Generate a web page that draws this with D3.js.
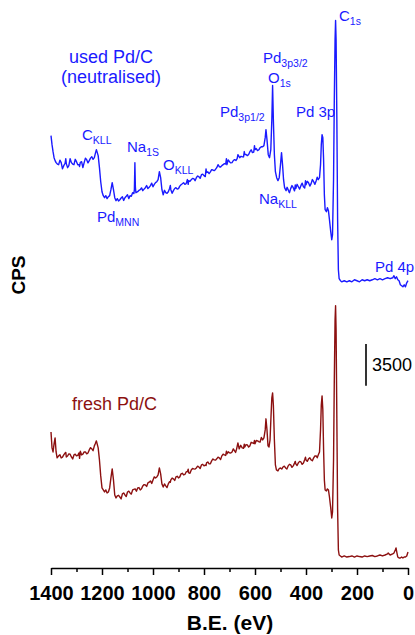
<!DOCTYPE html>
<html>
<head>
<meta charset="utf-8">
<script src="https://cdn.jsdelivr.net/npm/d3@7"></script>
<style>
  body { margin: 0; background: #fff; }
  svg { display: block; }
</style>
</head>
<body>
<svg id="chart" width="415" height="635"></svg>
<script>
// XPS survey spectra: [binding energy (eV), counts per second]
// The used catalyst is stacked above the fresh one by an offset already included in its counts.
const usedSpectrum = [
  [1400,36290],[1396,35530],[1392,34940],[1388,34440],[1384,34190],[1380,34020],[1375,33900],[1370,33850],
  [1365,34230],[1360,34020],[1355,33500],[1350,33770],[1345,33950],[1342,34350],[1340,33940],[1335,33600],
  [1330,33770],[1325,34350],[1320,34020],[1315,33900],[1310,33850],[1305,34300],[1300,34100],[1295,33850],
  [1290,33850],[1288,33700],[1285,34050],[1280,34100],[1275,33600],[1270,34020],[1265,34400],[1260,34270],
  [1255,34000],[1250,34190],[1245,34400],[1240,34520],[1235,34300],[1230,34440],[1226,34800],[1222,35110],
  [1215,34610],[1210,33600],[1205,32420],[1200,31580],[1195,31250],[1190,31080],[1185,31250],[1180,31000],
  [1175,31160],[1170,31250],[1165,31750],[1160,32340],[1155,31750],[1150,31080],[1145,30830],[1140,31000],
  [1135,30800],[1130,30910],[1125,31050],[1120,31160],[1115,30850],[1110,31080],[1105,31200],[1100,31330],
  [1095,31000],[1090,31250],[1085,31200],[1080,31500],[1075,31420],[1073,31750],[1071,34020],[1069,31920],
  [1067,31500],[1060,31580],[1055,31700],[1050,31750],[1045,31900],[1040,31670],[1035,31800],[1030,31920],
  [1025,32100],[1020,31840],[1015,31950],[1010,32090],[1005,32300],[1000,32000],[995,32200],[990,32340],
  [985,32420],[980,32590],[975,33260],[970,32760],[965,31750],[960,31330],[955,31700],[950,31500],
  [945,31450],[940,31580],[935,31850],[932,32100],[930,31750],[925,31450],[920,31670],[915,31850],
  [910,31920],[905,31800],[900,31840],[895,32050],[890,32170],[885,32250],[880,32340],[875,32200],
  [870,32260],[865,32600],[862,32200],[860,32510],[855,32450],[850,32590],[845,32700],[840,32680],
  [835,32500],[830,32760],[825,32900],[820,32840],[815,32700],[810,33010],[805,33050],[800,32930],
  [795,32850],[792,33500],[790,33180],[785,33250],[780,33100],[775,33250],[770,33430],[765,33400],
  [760,33350],[755,33450],[750,33600],[745,33850],[740,33680],[735,33650],[730,33770],[725,33850],
  [720,33940],[715,33900],[712,34350],[710,33850],[705,34250],[700,34100],[695,34000],[690,34020],
  [685,34200],[680,34270],[675,34200],[670,34360],[667,34690],[660,34440],[655,34550],[650,34520],
  [645,34500],[642,34950],[640,34690],[635,34700],[630,34610],[625,34700],[620,34940],[615,35100],
  [610,34860],[605,34900],[602,35450],[600,35110],[595,35200],[590,35030],[585,35100],[580,35280],
  [575,35350],[570,35360],[565,35450],[560,36120],[557,36790],[553,35950],[548,34690],[543,34440],
  [538,35110],[534,37630],[531,40490],[528,37630],[524,34690],[520,33260],[515,32760],[510,32510],
  [505,32760],[500,33850],[496,34860],[492,33850],[488,32590],[484,31920],[478,31670],[474,31950],
  [470,31750],[465,31500],[460,31840],[455,32100],[450,31920],[445,31650],[442,32150],[440,31840],
  [435,32200],[430,32000],[425,31800],[420,32090],[415,32300],[410,32000],[405,31900],[402,32500],
  [400,32170],[395,32450],[390,32340],[385,32050],[380,32260],[375,32600],[370,32420],[365,32200],
  [360,32510],[356,32800],[352,32590],[347,32760],[343,33850],[340,35530],[337,36370],[334,36120],
  [331,34270],[328,31330],[325,30070],[320,29900],[316,30240],[312,29990],[308,29230],[303,28220],
  [299,27550],[296,27970],[292,32590],[289,39310],[286,44350],[284,45950],[282,44350],[279,37630],
  [276,29230],[273,25030],[270,24280],[265,24110],[260,24020],[250,24110],[240,24020],[230,24110],
  [220,24020],[210,24190],[200,24110],[190,24020],[180,24190],[170,24110],[160,24190],[150,24110],
  [140,24190],[130,24280],[120,24190],[110,24280],[100,24190],[90,24280],[80,24360],[70,24280],
  [60,24360],[55,24530],[50,24280],[45,24440],[40,24190],[35,24110],[30,23770],[25,23690],
  [20,23600],[15,23770],[10,23600],[5,23940],[0,24110]
];

const freshSpectrum = [
  [1400,11420],[1396,10080],[1392,9740],[1388,10420],[1384,10920],[1380,9740],[1376,9240],[1370,9410],
  [1365,9500],[1360,9240],[1355,9300],[1350,9490],[1345,9650],[1342,9700],[1340,9320],[1335,9400],
  [1330,9580],[1325,9550],[1320,9320],[1315,9150],[1310,9490],[1305,9550],[1300,9410],[1295,9450],
  [1290,9660],[1288,9200],[1285,9800],[1280,9490],[1275,9550],[1270,9740],[1265,9750],[1260,9580],
  [1255,9650],[1250,9910],[1245,10100],[1240,10000],[1235,9850],[1230,10250],[1226,10450],[1222,10670],
  [1215,10080],[1210,9070],[1205,7730],[1200,6720],[1195,6550],[1190,6380],[1185,6550],[1180,6300],
  [1175,6380],[1170,6720],[1165,7560],[1160,8320],[1155,7390],[1150,6130],[1145,5880],[1140,6050],
  [1135,6100],[1130,5960],[1125,5800],[1120,6220],[1115,6300],[1110,6130],[1105,6000],[1100,6380],
  [1095,6450],[1090,6300],[1085,6200],[1080,6550],[1075,6600],[1070,6640],[1065,6450],[1060,6720],
  [1055,6750],[1050,6550],[1045,6650],[1040,6890],[1035,7000],[1030,6970],[1025,6850],[1020,7140],
  [1015,7200],[1010,7310],[1005,7100],[1000,7390],[995,7650],[990,7560],[985,7640],[980,7810],
  [975,8400],[970,7900],[965,7060],[960,6800],[955,7050],[950,6890],[945,6750],[940,7060],
  [935,7250],[932,7200],[930,7390],[925,7550],[920,7480],[915,7350],[910,7640],[905,7700],
  [900,7560],[895,7650],[890,7900],[885,7950],[880,7810],[875,7850],[870,8060],[865,8100],
  [862,8300],[860,7980],[855,7950],[850,8230],[845,8350],[840,8320],[835,8300],[830,8400],
  [825,8550],[820,8480],[815,8350],[810,8650],[805,8700],[800,8570],[795,8650],[792,8600],
  [790,8820],[785,8900],[780,8740],[775,8750],[770,8990],[765,9150],[760,9070],[755,9050],
  [750,9160],[745,9300],[740,9240],[735,9100],[730,9410],[725,9550],[720,9490],[715,9450],
  [712,9800],[710,9580],[705,9750],[700,9660],[695,9650],[690,9740],[685,10000],[680,9830],
  [676,9700],[672,10000],[667,10500],[662,10000],[656,10300],[650,10080],[645,10050],[642,10400],
  [640,10160],[635,10350],[630,10330],[625,10150],[620,10250],[615,10550],[610,10500],[605,10450],
  [602,10700],[600,10420],[595,10700],[590,10670],[585,10600],[580,10580],[575,10950],[570,10750],
  [565,10920],[560,11590],[557,12520],[553,11590],[549,10250],[545,10160],[541,10750],[537,12850],
  [534,14280],[531,14700],[528,13690],[524,10750],[520,8650],[516,8230],[510,8150],[505,8350],
  [500,8400],[495,8300],[490,8480],[485,8550],[480,8400],[475,8300],[470,8570],[465,8700],
  [460,8650],[455,8450],[450,8570],[445,8800],[442,8950],[440,8740],[435,8600],[430,8820],
  [425,8950],[420,8900],[415,8700],[410,8820],[405,9100],[402,9300],[400,9070],[395,8950],
  [390,9160],[385,9250],[380,9070],[375,9000],[370,9240],[365,9400],[360,9410],[356,9250],
  [352,9490],[347,9740],[343,11590],[340,13690],[337,14450],[334,13270],[331,9910],[328,7390],
  [325,6550],[320,6470],[316,6640],[312,6550],[308,5960],[303,5040],[299,4200],[296,4700],
  [292,9070],[289,15790],[286,20830],[284,22010],[282,19990],[279,12430],[276,4870],[273,1510],
  [270,1090],[265,1010],[260,920],[250,1010],[240,920],[230,960],[220,1010],[210,920],
  [200,1010],[190,960],[180,920],[170,1010],[160,960],[150,1010],[140,1050],[130,960],
  [120,1010],[110,1090],[100,1010],[90,1090],[80,1180],[78,1260],[70,1090],[60,1180],
  [55,1260],[50,1510],[47,1680],[44,1340],[40,920],[35,840],[30,840],[25,920],
  [20,840],[15,920],[10,920],[5,1010],[0,1340]
];

const majorTicks = [1400, 1200, 1000, 800, 600, 400, 200, 0];
const minorTicks = [1300, 1100, 900, 700, 500, 300, 100];
const scaleBarBase = 15300;   // CPS at the foot of the intensity scale bar
const scaleBarSpan = 3500;    // CPS represented by the bar

const BLUE = "#1a1aff";
const RED = "#8c1010";
const FONT = "Arial, 'Liberation Sans', Helvetica, sans-serif";

const svg = d3.select("#chart");
const x = d3.scaleLinear().domain([1400, 0]).range([51, 408]);
const y = d3.scaleLinear().domain([0, 47000]).range([568, 8]);

const line = d3.line().x(d => x(d[0])).y(d => y(d[1]));
const byEnergy = s => s.slice().sort((a, b) => b[0] - a[0]);

// spectra
svg.append("path").datum(byEnergy(freshSpectrum))
  .attr("d", line).attr("fill", "none")
  .attr("stroke", RED).attr("stroke-width", 1.4).attr("stroke-linejoin", "round");
svg.append("path").datum(byEnergy(usedSpectrum))
  .attr("d", line).attr("fill", "none")
  .attr("stroke", BLUE).attr("stroke-width", 1.4).attr("stroke-linejoin", "round");

// binding-energy axis
const xAxis = svg.append("g").attr("transform", "translate(0,568)")
  .call(d3.axisBottom(x).tickValues(majorTicks).tickSize(7).tickSizeOuter(0)
    .tickPadding(11).tickFormat(d3.format("d")));
xAxis.select(".domain").attr("stroke", "#000").attr("stroke-width", 1.5);
xAxis.selectAll(".tick line").attr("stroke", "#000").attr("stroke-width", 1.5);
xAxis.selectAll(".tick text")
  .attr("font-family", FONT).attr("font-size", 20).attr("font-weight", "bold").attr("fill", "#000");

const xMinor = svg.append("g").attr("transform", "translate(0,568)")
  .call(d3.axisBottom(x).tickValues(minorTicks).tickSize(4).tickSizeOuter(0).tickFormat(""));
xMinor.select(".domain").remove();
xMinor.selectAll(".tick line").attr("stroke", "#000").attr("stroke-width", 1.5);

svg.append("text")
  .attr("x", 230).attr("y", 630).attr("text-anchor", "middle")
  .attr("font-family", FONT).attr("font-size", 21).attr("font-weight", "bold")
  .text("B.E. (eV)");

svg.append("text")
  .attr("transform", "translate(25,275) rotate(-90)").attr("text-anchor", "middle")
  .attr("font-family", FONT).attr("font-size", 19).attr("font-weight", "bold")
  .text("CPS");

// intensity scale bar
svg.append("line")
  .attr("x1", 366).attr("x2", 366)
  .attr("y1", y(scaleBarBase)).attr("y2", y(scaleBarBase + scaleBarSpan))
  .attr("stroke", "#000").attr("stroke-width", 1.6);
svg.append("text")
  .attr("x", 372).attr("y", (y(scaleBarBase) + y(scaleBarBase + scaleBarSpan)) / 2 + 6)
  .attr("font-family", FONT).attr("font-size", 18).attr("fill", "#000")
  .text(scaleBarSpan);

// sample names
const names = [
  { t: "used Pd/C", x: 111, y: 63, c: BLUE, a: "middle" },
  { t: "(neutralised)", x: 111, y: 83, c: BLUE, a: "middle" },
  { t: "fresh Pd/C", x: 72, y: 410, c: RED, a: "start" }
];
svg.selectAll("text.name").data(names).enter().append("text")
  .attr("class", "name")
  .attr("x", d => d.x).attr("y", d => d.y).attr("text-anchor", d => d.a)
  .attr("font-family", FONT).attr("font-size", 18).attr("fill", d => d.c)
  .text(d => d.t);

// peak assignments on the used-catalyst spectrum
const peaks = [
  { m: "C", s: "KLL", x: 82, y: 140 },
  { m: "Na", s: "1S", x: 127, y: 152 },
  { m: "O", s: "KLL", x: 163, y: 170 },
  { m: "Pd", s: "MNN", x: 97, y: 222 },
  { m: "Pd", s: "3p1/2", x: 220, y: 117 },
  { m: "Pd", s: "3p3/2", x: 263, y: 63 },
  { m: "O", s: "1s", x: 268, y: 83 },
  { m: "Na", s: "KLL", x: 259, y: 204 },
  { m: "Pd 3p", s: "", x: 296, y: 117 },
  { m: "C", s: "1s", x: 339, y: 21 },
  { m: "Pd 4p", s: "", x: 375, y: 272 }
];
const pk = svg.selectAll("text.peak").data(peaks).enter().append("text")
  .attr("class", "peak")
  .attr("x", d => d.x).attr("y", d => d.y)
  .attr("font-family", FONT).attr("font-size", 15).attr("fill", BLUE);
pk.append("tspan").text(d => d.m);
pk.append("tspan").attr("font-size", 10.5).attr("dy", 3.5).text(d => d.s);
</script>
</body>
</html>
